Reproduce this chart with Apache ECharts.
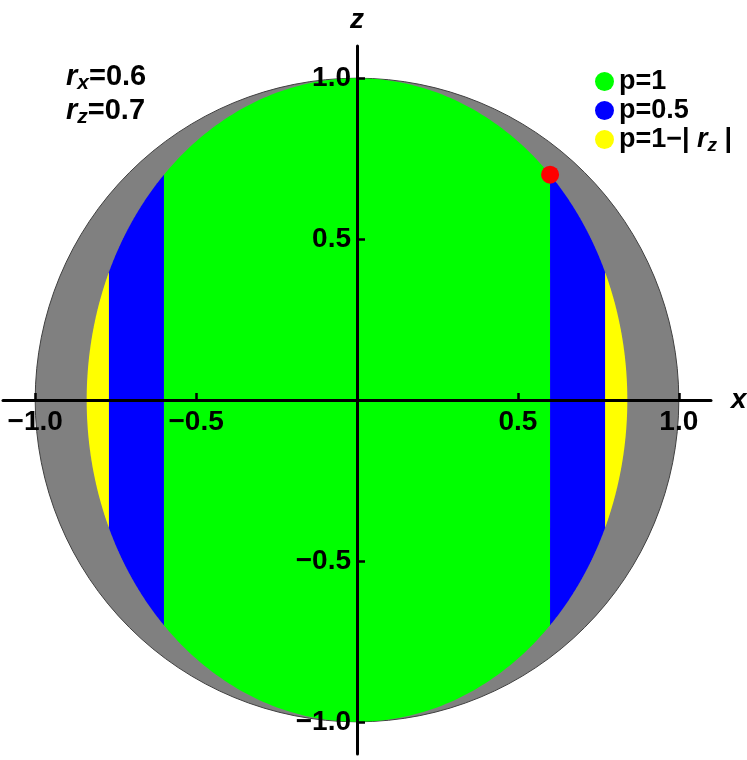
<!DOCTYPE html>
<html>
<head>
<meta charset="utf-8">
<script src="https://cdn.jsdelivr.net/npm/echarts@6/dist/echarts.min.js"></script>
<style>
  html, body { margin: 0; padding: 0; background: #fff; }
  #chart { width: 747px; height: 760px; }
</style>
</head>
<body>
<div id="chart"></div>
<script>
// values
const xTicks = [-1, -0.5, 0.5, 1];
const zTicks = [-1, -0.5, 0.5, 1];
const sphereRadius = [[1]];
const ellipseA = 0.84; // x half-width of the inner ellipse (z half-height is 1)
const greenBands = [[-0.6, 0.6]];
const blueBands = [[-0.771, -0.6], [0.6, 0.771]];
const yellowBands = [[-0.84, -0.771], [0.771, 0.84]];
const statePoint = [[0.6, 0.7]];
const legendNames = ["p=1", "p=0.5", "p=1−|rz|"];

const font = "Liberation Sans, Arial, sans-serif";
const gridSize = 708; // plot is square, axes cross in the middle

function fmt(v) {
  return (v < 0 ? "−" : "") + Math.abs(v).toFixed(1);
}

// region of the ellipse between two x values
function bandItem(params, api) {
  const xl = api.value(0);
  const xr = api.value(1);
  const tl = Math.acos(Math.max(-1, Math.min(1, xl / ellipseA)));
  const tr = Math.acos(Math.max(-1, Math.min(1, xr / ellipseA)));
  const n = 90;
  const pts = [];
  for (let i = 0; i <= n; i++) {
    const t = tl + ((tr - tl) * i) / n;
    pts.push(api.coord([ellipseA * Math.cos(t), Math.sin(t)]));
  }
  for (let i = 0; i <= n; i++) {
    const t = tr + ((tl - tr) * i) / n;
    pts.push(api.coord([ellipseA * Math.cos(t), -Math.sin(t)]));
  }
  return {
    type: "polygon",
    shape: { points: pts },
    style: { fill: api.visual("color") },
  };
}

function richText(size, sub, lh) {
  return {
    t: { fontSize: size, fontWeight: "bold", fontFamily: font, lineHeight: lh, color: "#000" },
    i: { fontSize: size, fontWeight: "bold", fontStyle: "italic", fontFamily: font, lineHeight: lh, color: "#000" },
    s: { fontSize: sub, fontWeight: "bold", fontStyle: "italic", fontFamily: font, lineHeight: sub, verticalAlign: "bottom", color: "#000" },
  };
}

const axisCommon = {
  type: "value",
  min: -1.1,
  max: 1.1,
  z: 5,
  offset: -gridSize / 2,
  axisLine: { onZero: false, lineStyle: { color: "#000", width: 3 } },
  splitLine: { show: false },
  nameTextStyle: { fontSize: 28, fontWeight: "bold", fontStyle: "italic", fontFamily: font, color: "#000" },
};

const chart = echarts.init(document.getElementById("chart"));
chart.setOption({
  animation: false,
  grid: { left: 3, top: 46, width: gridSize, height: gridSize, outerBoundsMode: "none" },
  xAxis: Object.assign({}, axisCommon, {
    position: "bottom",
    name: "x",
    nameLocation: "end",
    nameGap: 20,
    axisTick: { inside: true, length: 7, customValues: xTicks, lineStyle: { color: "#000", width: 2.5 } },
    axisLabel: { customValues: xTicks, formatter: fmt, color: "#000", fontSize: 28, fontWeight: "bold", fontFamily: font, margin: 8 },
  }),
  yAxis: Object.assign({}, axisCommon, {
    position: "left",
    name: "z",
    nameLocation: "end",
    nameGap: 12,
    axisTick: { inside: true, length: 8, customValues: zTicks, lineStyle: { color: "#000", width: 2.5 } },
    axisLabel: { customValues: zTicks, formatter: fmt, color: "#000", fontSize: 28, fontWeight: "bold", fontFamily: font, margin: 6 },
  }),
  legend: {
    orient: "vertical",
    left: 590,
    top: 63,
    itemWidth: 19,
    itemHeight: 19,
    itemGap: 2,
    icon: "circle",
    selectedMode: false,
    data: legendNames,
    formatter: (name) =>
      name === legendNames[2] ? "{t|p=1−| }{i|r}{s|z}{t| |}" : "{t|" + name + "}",
    textStyle: { rich: richText(27, 19, 32) },
  },
  graphic: [
    {
      type: "text",
      left: 66,
      top: 62,
      style: {
        text: "{i|r}{s|x}{t|=0.6}\n{i|r}{s|z}{t|=0.7}",
        rich: richText(29, 21, 34),
      },
    },
  ],
  series: [
    {
      type: "custom",
      name: "sphere",
      z: 1,
      data: sphereRadius,
      renderItem(params, api) {
        const c = api.coord([0, 0]);
        const r = api.size([api.value(0), 0])[0];
        return {
          type: "circle",
          shape: { cx: c[0], cy: c[1], r: r },
          style: { fill: "#808080", stroke: "#404040", lineWidth: 1 },
        };
      },
    },
    { type: "custom", name: legendNames[0], z: 2, data: greenBands, itemStyle: { color: "#00ff00" }, renderItem: bandItem },
    { type: "custom", name: legendNames[1], z: 2, data: blueBands, itemStyle: { color: "#0000ff" }, renderItem: bandItem },
    { type: "custom", name: legendNames[2], z: 2, data: yellowBands, itemStyle: { color: "#ffff00" }, renderItem: bandItem },
    {
      type: "scatter",
      z: 6,
      data: statePoint,
      symbolSize: 18,
      itemStyle: { color: "#ff0000", opacity: 1 },
    },
  ],
});
</script>
</body>
</html>
